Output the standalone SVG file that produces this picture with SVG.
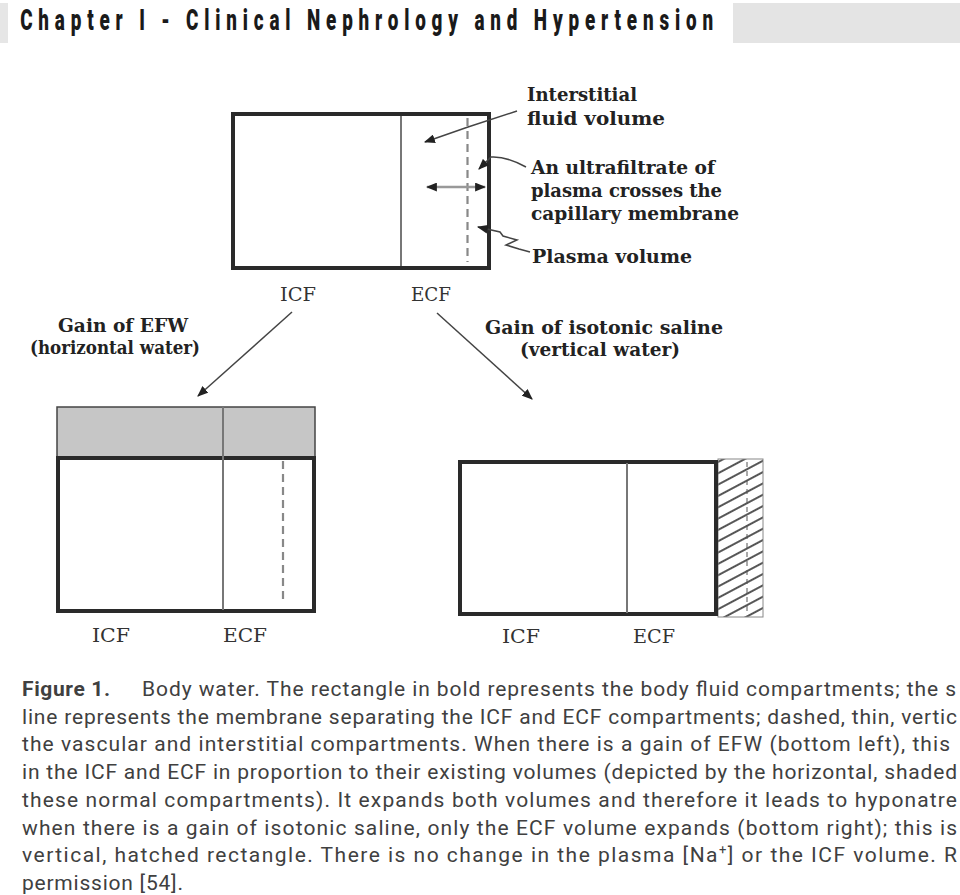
<svg xmlns="http://www.w3.org/2000/svg" width="960" height="895" viewBox="0 0 960 895">
<style>
.lbl{font-family:"DejaVu Serif","Liberation Serif",serif;font-size:18px;fill:#222;font-weight:bold}
.cf{font-family:"DejaVu Serif","Liberation Serif",serif;font-size:18px;fill:#333}
.cap{font-family:Roboto,"Liberation Sans",sans-serif;font-size:21px;fill:#404040}
.bold{stroke:#2a2a2a;stroke-width:4;fill:none}
.mem{stroke:#777;stroke-width:2;fill:none}
.dash{stroke:#888;stroke-width:2.2;stroke-dasharray:8 5;fill:none}
.conn{stroke:#444;stroke-width:1.5;fill:none}
</style>
<defs>
<marker id="ah" viewBox="0 0 10 8" refX="9" refY="4" markerWidth="11" markerHeight="9" markerUnits="userSpaceOnUse" orient="auto-start-reverse"><path d="M0,0 L10,4 L0,8 z" fill="#222"/></marker>
<pattern id="hatch" patternUnits="userSpaceOnUse" width="14" height="10" patternTransform="rotate(-28)"><rect width="14" height="10" fill="#fff"/><line x1="0" y1="5" x2="14" y2="5" stroke="#444" stroke-width="1.8"/></pattern>
</defs>
<rect width="960" height="895" fill="#fff"/>
<g id="header">
<rect x="0" y="3" width="8" height="40" fill="#e6e6e6"/>
<rect x="733" y="3" width="227" height="40" fill="#e4e4e4"/>
<text x="31" y="30" transform="scale(0.65 1)" textLength="1066" lengthAdjust="spacing" style="font-family:Roboto,'Liberation Sans',sans-serif;font-size:29px;font-weight:900;fill:#1a1a1a">Chapter I - Clinical Nephrology and Hypertension</text>
</g>
<g id="top-body">
<rect class="bold" x="233" y="114" width="256" height="154"/>
<line class="mem" x1="401" y1="116" x2="401" y2="266"/>
<line class="dash" x1="467.5" y1="118" x2="467.5" y2="262"/>
<text class="cf" x="280" y="301" textLength="36" lengthAdjust="spacingAndGlyphs">ICF</text>
<text class="cf" x="411" y="301" textLength="40" lengthAdjust="spacingAndGlyphs">ECF</text>
</g>
<g id="top-labels">
<text class="lbl" x="527" y="101" textLength="110" lengthAdjust="spacingAndGlyphs">Interstitial</text>
<text class="lbl" x="527" y="125" textLength="138" lengthAdjust="spacingAndGlyphs">fluid volume</text>
<text class="lbl" x="531" y="174" textLength="184" lengthAdjust="spacingAndGlyphs">An ultrafiltrate of</text>
<text class="lbl" x="531" y="197" textLength="191" lengthAdjust="spacingAndGlyphs">plasma crosses the</text>
<text class="lbl" x="531" y="220" textLength="208" lengthAdjust="spacingAndGlyphs">capillary membrane</text>
<text class="lbl" x="532" y="263" textLength="160" lengthAdjust="spacingAndGlyphs">Plasma volume</text>
</g>
<g id="branch-labels">
<text class="lbl" x="58" y="332" textLength="130" lengthAdjust="spacingAndGlyphs">Gain of EFW</text>
<text class="lbl" x="30" y="354" textLength="170" lengthAdjust="spacingAndGlyphs">(horizontal water)</text>
<text class="lbl" x="485" y="334" textLength="238" lengthAdjust="spacingAndGlyphs">Gain of isotonic saline</text>
<text class="lbl" x="520" y="356" textLength="160" lengthAdjust="spacingAndGlyphs">(vertical water)</text>
</g>
<g id="efw-gain">
<rect x="57" y="407" width="258" height="50" fill="#c6c6c6" stroke="#444" stroke-width="1.5"/>
<rect class="bold" x="58" y="458" width="256" height="153"/>
<line class="mem" x1="223" y1="407" x2="223" y2="610"/>
<line class="dash" x1="283" y1="461" x2="283" y2="604"/>
<text class="cf" x="92" y="642" textLength="38" lengthAdjust="spacingAndGlyphs">ICF</text>
<text class="cf" x="223" y="642" textLength="44" lengthAdjust="spacingAndGlyphs">ECF</text>
</g>
<g id="saline-gain">
<rect x="718" y="459" width="45" height="158" fill="url(#hatch)" stroke="#888" stroke-width="1"/>
<line x1="747" y1="462" x2="747" y2="614" stroke="#555" stroke-width="1" stroke-dasharray="5 4"/>
<rect class="bold" x="460" y="462" width="256" height="152"/>
<line class="mem" x1="627" y1="463" x2="627" y2="613"/>
<text class="cf" x="502" y="643" textLength="38" lengthAdjust="spacingAndGlyphs">ICF</text>
<text class="cf" x="633" y="643" textLength="42" lengthAdjust="spacingAndGlyphs">ECF</text>
</g>
<g id="connectors">
<path class="conn" d="M517,111 L468,127 L425,142" marker-end="url(#ah)"/>
<path class="conn" d="M526,167 Q506,156 491,157 L479,169" marker-end="url(#ah)"/>
<line x1="427" y1="187" x2="485" y2="187" stroke="#999" stroke-width="2.5" marker-start="url(#ah)" marker-end="url(#ah)"/>
<path class="conn" d="M530,252 L519,249 L506,245 L517,240 L503,236 L500,232 L478,227" marker-end="url(#ah)"/>
<line class="conn" x1="292" y1="312" x2="198" y2="396" marker-end="url(#ah)"/>
<line class="conn" x1="437" y1="313" x2="532" y2="399" marker-end="url(#ah)"/>
</g>
<g id="caption">
<text class="cap" x="22" y="696" textLength="88" lengthAdjust="spacing" font-weight="bold" fill="#222">Figure 1.</text>
<text class="cap" x="142" y="696" textLength="814" lengthAdjust="spacing">Body water. The rectangle in bold represents the body fluid compartments; the s</text>
<text class="cap" x="22" y="724" textLength="935" lengthAdjust="spacing">line represents the membrane separating the ICF and ECF compartments; dashed, thin, vertic</text>
<text class="cap" x="22" y="751" textLength="928" lengthAdjust="spacing">the vascular and interstitial compartments. When there is a gain of EFW (bottom left), this</text>
<text class="cap" x="22" y="779" textLength="935" lengthAdjust="spacing">in the ICF and ECF in proportion to their existing volumes (depicted by the horizontal, shaded</text>
<text class="cap" x="22" y="807" textLength="935" lengthAdjust="spacing">these normal compartments). It expands both volumes and therefore it leads to hyponatre</text>
<text class="cap" x="22" y="835" textLength="935" lengthAdjust="spacing">when there is a gain of isotonic saline, only the ECF volume expands (bottom right); this is</text>
<text class="cap" x="22" y="862" textLength="935" lengthAdjust="spacing">vertical, hatched rectangle. There is no change in the plasma [Na<tspan font-size="13" dy="-8">+</tspan><tspan dy="8">] or the ICF volume. R</tspan></text>
<text class="cap" x="22" y="890" textLength="161" lengthAdjust="spacing">permission [54].</text>
</g>
</svg>
